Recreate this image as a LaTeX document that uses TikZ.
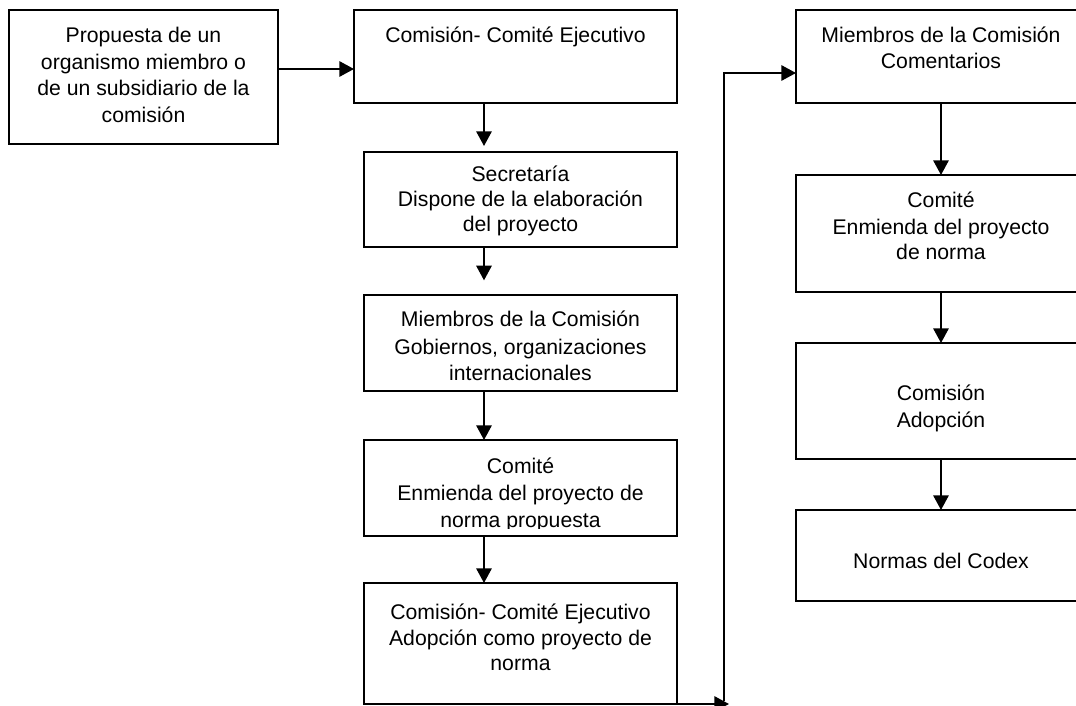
\documentclass[tikz,border=0pt]{standalone}
\usepackage{fontspec}
\setmainfont{Liberation Sans}
\usetikzlibrary{arrows.meta}
\begin{document}
\begin{tikzpicture}[x=0.75pt,y=-0.75pt,
  box/.style={draw, line width=1.1pt, inner sep=0pt, outer sep=0pt},
  txt/.style={anchor=base, inner sep=0pt, font=\fontsize{15.9pt}{19.5pt}\selectfont},
  arr/.style={line width=1.5pt, -{Triangle[length=11pt,width=11.5pt]}}]
\useasboundingbox (0,0) rectangle (1076,706);
\clip (0,0) rectangle (1076,706);
\fill[white] (0,0) rectangle (1076,706);
% boxes
\node[box, minimum width=201.75pt, minimum height=100.5pt] (b1) at (143.5,77) {};
\node[box, minimum width=242.25pt, minimum height=69.75pt] (b2) at (515.5,56.5) {};
\node[box, minimum width=234.75pt, minimum height=71.25pt] (b3) at (520.5,199.5) {};
\node[box, minimum width=234.75pt, minimum height=72pt] (b4) at (520.5,343) {};
\node[box, minimum width=234.75pt, minimum height=72pt] (b5) at (520.5,488) {};
\node[box, minimum width=234.75pt, minimum height=90.75pt] (b6) at (520.5,643.5) {};
\node[box, minimum width=217.5pt, minimum height=69.75pt] (b7) at (941,56.5) {};
\node[box, minimum width=217.5pt, minimum height=87.75pt] (b8) at (941,233.5) {};
\node[box, minimum width=217.5pt, minimum height=87pt] (b9) at (941,401) {};
\node[box, minimum width=217.5pt, minimum height=68.25pt] (b10) at (941,555.5) {};
% texts
\node[txt] (t1a) at (143.5,43) {Propuesta de un};
\node[txt] (t1b) at (143.5,69.5) {organismo miembro o};
\node[txt] (t1c) at (143.5,96) {de un subsidiario de la};
\node[txt] (t1d) at (143.5,122.5) {comisión};
\node[txt] (t2a) at (515.5,43) {Comisión- Comité Ejecutivo};
\node[txt] (t3a) at (520.5,182) {Secretaría};
\node[txt] (t3b) at (520.5,207) {Dispone de la elaboración};
\node[txt] (t3c) at (520.5,232) {del proyecto};
\node[txt] (t4a) at (520.5,327) {Miembros de la Comisión};
\node[txt] (t4b) at (520.5,354) {Gobiernos, organizaciones};
\node[txt] (t4c) at (520.5,381) {internacionales};
\node[txt] (t5a) at (520.5,474) {Comité};
\node[txt] (t5b) at (520.5,500) {Enmienda del proyecto de};
\begin{scope}
\clip (364,440) rectangle (677,528.5);
\node[txt] (t5c) at (520.5,527) {norma propuesta};
\end{scope}
\node[txt] (t6a) at (520.5,619) {Comisión- Comité Ejecutivo};
\node[txt] (t6b) at (520.5,645) {Adopción como proyecto de};
\node[txt] (t6c) at (520.5,670) {norma};
\node[txt] (t7a) at (941,43) {Miembros de la Comisión};
\node[txt] (t7b) at (941,69) {Comentarios};
\node[txt] (t8a) at (941,208) {Comité};
\node[txt] (t8b) at (941,235) {Enmienda del proyecto};
\node[txt] (t8c) at (941,260) {de norma};
\node[txt] (t9a) at (941,401) {Comisión};
\node[txt] (t9b) at (941,427) {Adopción};
\node[txt] (t10a) at (941,568) {Normas del Codex};
% helper coordinates
\coordinate (ya) at (0,69);
\coordinate (colx) at (484,0);
\coordinate (fa) at (729,704);
\coordinate (fb) at (724,701);
\coordinate (fy) at (0,73);
% connectors
\draw[arr] (b1.east |- ya) -- (b2.west |- ya);
\draw[arr, shorten >=4.5pt] (b2.south -| colx) -- (b3.north -| colx);
\draw[arr, shorten >=11pt] (b3.south -| colx) -- (b4.north -| colx);
\draw[arr] (b4.south -| colx) -- (b5.north -| colx);
\draw[arr] (b5.south -| colx) -- (b6.north -| colx);
\draw[arr] (b6.south east) -- (fa);
\draw[arr] (fb) |- (b7.west |- fy);
\draw[arr] (b7.south) -- (b8.north);
\draw[arr] (b8.south) -- (b9.north);
\draw[arr] (b9.south) -- (b10.north);
\end{tikzpicture}
\end{document}
